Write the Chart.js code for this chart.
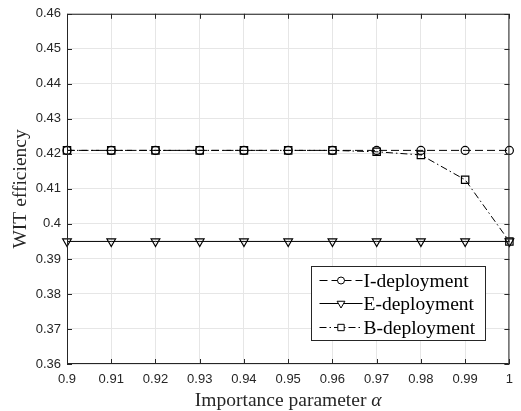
<!DOCTYPE html>
<html>
<head>
<meta charset="utf-8">
<script src="https://cdn.jsdelivr.net/npm/chart.js@4/dist/chart.umd.min.js"></script>
<style>
  html, body { margin: 0; padding: 0; background: #fff; }
  #wrap { width: 521px; height: 411px; }
</style>
</head>
<body>
<div id="wrap"><canvas id="chart" width="521" height="411"></canvas></div>
<script>
const alphas = [0.9, 0.91, 0.92, 0.93, 0.94, 0.95, 0.96, 0.97, 0.98, 0.99, 1];
const iDeployment = [0.421, 0.421, 0.421, 0.421, 0.421, 0.421, 0.421, 0.421, 0.421, 0.421, 0.421];
const eDeployment = [0.395, 0.395, 0.395, 0.395, 0.395, 0.395, 0.395, 0.395, 0.395, 0.395, 0.395];
const bDeployment = [0.421, 0.421, 0.421, 0.421, 0.421, 0.421, 0.421, 0.4206, 0.4197, 0.4126, 0.395];
const xTicks = [0.9, 0.91, 0.92, 0.93, 0.94, 0.95, 0.96, 0.97, 0.98, 0.99, 1];
const yTicks = [0.36, 0.37, 0.38, 0.39, 0.4, 0.41, 0.42, 0.43, 0.44, 0.45, 0.46];

const toPoints = ys => alphas.map((a, i) => ({ x: a, y: ys[i] }));

const series = [
    { label: 'I-deployment', data: iDeployment, dash: [8, 4], style: 'circle', radius: 4, legendRadius: 3.5, rotation: 0 },
    { label: 'E-deployment', data: eDeployment, dash: [], style: 'triangle', radius: 5, legendRadius: 4.5, rotation: 180 },
    { label: 'B-deployment', data: bDeployment, dash: [7, 3, 1.5, 3], style: 'rect', radius: 5.2, legendRadius: 4.5, rotation: 0 }
];

const serif = '"Liberation Serif", "Times New Roman", serif';

// inward ticks, full box, axis titles and legend inside the plot
const matlabLook = {
    id: 'matlabLook',
    afterDraw(chart) {
        const ctx = chart.ctx;
        const { left, right, top, bottom } = chart.chartArea;
        const xs = chart.scales.x, ys = chart.scales.y;
        ctx.save();
        ctx.strokeStyle = '#262626';
        ctx.lineWidth = 1;
        ctx.setLineDash([]);
        ctx.beginPath();
        ctx.rect(left + 0.5, top + 0.5, right - left - 1, bottom - top - 1);
        const tl = 5;
        xTicks.forEach(v => {
            const px = Math.round(xs.getPixelForValue(v)) + 0.5;
            ctx.moveTo(px, bottom); ctx.lineTo(px, bottom - tl);
            ctx.moveTo(px, top); ctx.lineTo(px, top + tl);
        });
        yTicks.forEach(v => {
            const py = Math.round(ys.getPixelForValue(v)) + 0.5;
            ctx.moveTo(left, py); ctx.lineTo(left + tl, py);
            ctx.moveTo(right, py); ctx.lineTo(right - tl, py);
        });
        ctx.stroke();

        // axis titles
        ctx.fillStyle = '#262626';
        ctx.textBaseline = 'alphabetic';
        const t1 = 'Importance parameter ';
        ctx.font = 'italic 19.5px ' + serif;
        const wA = ctx.measureText('α').width;
        ctx.font = '19.5px ' + serif;
        const w1 = ctx.measureText(t1).width;
        const cx = (left + right) / 2;
        const x0 = cx - (w1 + wA) / 2;
        ctx.textAlign = 'left';
        ctx.fillText(t1, x0, 406);
        ctx.font = 'italic 19.5px ' + serif;
        ctx.fillText('α', x0 + w1, 406);

        ctx.save();
        ctx.translate(26, (top + bottom) / 2);
        ctx.rotate(-Math.PI / 2);
        ctx.textAlign = 'center';
        ctx.font = '19.5px ' + serif;
        ctx.fillText('WIT efficiency', 0, 0);
        ctx.restore();

        // legend box
        const bx = 311.5, by = 266.5, bw = 174, bh = 74;
        ctx.fillStyle = '#fff';
        ctx.fillRect(bx, by, bw, bh);
        ctx.strokeStyle = '#262626';
        ctx.strokeRect(bx, by, bw, bh);
        const rowH = 23.3;
        series.forEach((s, i) => {
            const ry = Math.round(by + 13.5 + i * rowH) + 0.5;
            ctx.strokeStyle = '#000';
            ctx.lineWidth = 1;
            ctx.setLineDash(s.dash);
            ctx.beginPath();
            ctx.moveTo(bx + 8, ry);
            ctx.lineTo(bx + 51, ry);
            ctx.stroke();
            ctx.setLineDash([]);
            ctx.fillStyle = '#fff';
            Chart.helpers.drawPoint(ctx, { pointStyle: s.style, radius: s.legendRadius, rotation: s.rotation, borderWidth: 1 }, bx + 29.5, ry);
            ctx.fillStyle = '#000';
            ctx.font = '19.5px ' + serif;
            ctx.textAlign = 'left';
            ctx.textBaseline = 'middle';
            ctx.fillText(s.label, bx + 52, ry + 1);
        });
        ctx.restore();
    }
};

new Chart(document.getElementById('chart'), {
    type: 'scatter',
    data: {
        datasets: series.map(s => ({
            label: s.label,
            data: toPoints(s.data),
            showLine: true,
            borderColor: '#000',
            borderWidth: 1,
            borderDash: s.dash,
            backgroundColor: 'rgba(0,0,0,0)',
            pointStyle: s.style,
            pointRadius: s.radius,
            pointRotation: s.rotation,
            pointBorderWidth: 1.2,
            pointBorderColor: '#000',
            pointBackgroundColor: 'rgba(0,0,0,0)',
            clip: false
        })).reverse()
    },
    options: {
        responsive: false,
        animation: false,
        devicePixelRatio: 1,
        layout: { padding: { left: 0, right: 7, top: 11, bottom: 0 } },
        plugins: { legend: { display: false }, tooltip: { enabled: false } },
        scales: {
            x: {
                type: 'linear',
                min: 0.9,
                max: 1,
                afterBuildTicks: sc => { sc.ticks = xTicks.map(v => ({ value: v })); },
                afterFit: sc => { sc.height = 47; },
                grid: { color: '#e6e6e6', drawTicks: false, lineWidth: 1 },
                border: { display: false },
                ticks: {
                    color: '#262626',
                    font: { family: 'Liberation Sans', size: 13 },
                    padding: 8,
                    maxRotation: 0,
                    autoSkip: false,
                    callback: v => String(Number(v.toFixed(2)))
                }
            },
            y: {
                type: 'linear',
                min: 0.36,
                max: 0.46,
                afterBuildTicks: sc => { sc.ticks = yTicks.map(v => ({ value: v })); },
                afterFit: sc => { sc.width = 67; },
                grid: { color: '#e6e6e6', drawTicks: false, lineWidth: 1 },
                border: { display: false },
                ticks: {
                    color: '#262626',
                    font: { family: 'Liberation Sans', size: 13 },
                    padding: 6,
                    autoSkip: false,
                    callback: v => String(Number(v.toFixed(2)))
                }
            }
        }
    },
    plugins: [matlabLook]
});
</script>
</body>
</html>
